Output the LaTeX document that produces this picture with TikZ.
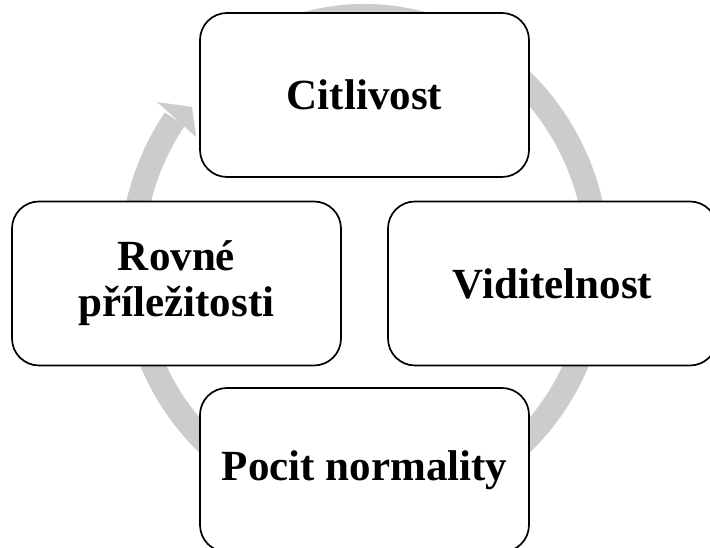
\documentclass[tikz,border=0pt]{standalone}
\usepackage{fontspec}
\setmainfont{Liberation Serif}
\definecolor{ringgray}{HTML}{CCCCCC}
\begin{document}
\begin{tikzpicture}[x=1pt,y=1pt,
  cyclebox/.style={draw=black, line width=1.7pt, fill=white, rounded corners=27pt,
    minimum width=329pt, minimum height=164pt, align=center, inner sep=0pt,
    font=\bfseries\fontsize{43}{46}\selectfont},
  ringband/.style={draw=ringgray, line width=24pt, line cap=butt}]
\useasboundingbox (0,0) rectangle (710,548);
\clip (0,0) rectangle (710,548);

% circular flow band with its arrowhead
\coordinate (ringc) at (364.5,286);
\draw[ringband] (ringc) ++(120:233 and 246)
  arc[start angle=120, end angle=-215.5, x radius=233, y radius=246];
\coordinate (barbout) at (157,446);
\coordinate (arrowtip) at (192,441);
\coordinate (barbin) at (196,411);
\fill[ringgray] (barbout) -- (arrowtip) -- (barbin) -- cycle;

% the four stages
\node[cyclebox] (citlivost) at (364.5,453) {Citlivost};
\node[cyclebox] (viditelnost) at (552.5,264.5) {Viditelnost};
\node[cyclebox] (normalita) at (364.5,78) {Pocit normality};
\node[cyclebox] (prilezitosti) at (176.5,264.5) {Rovné\\příležitosti};
\end{tikzpicture}
\end{document}
